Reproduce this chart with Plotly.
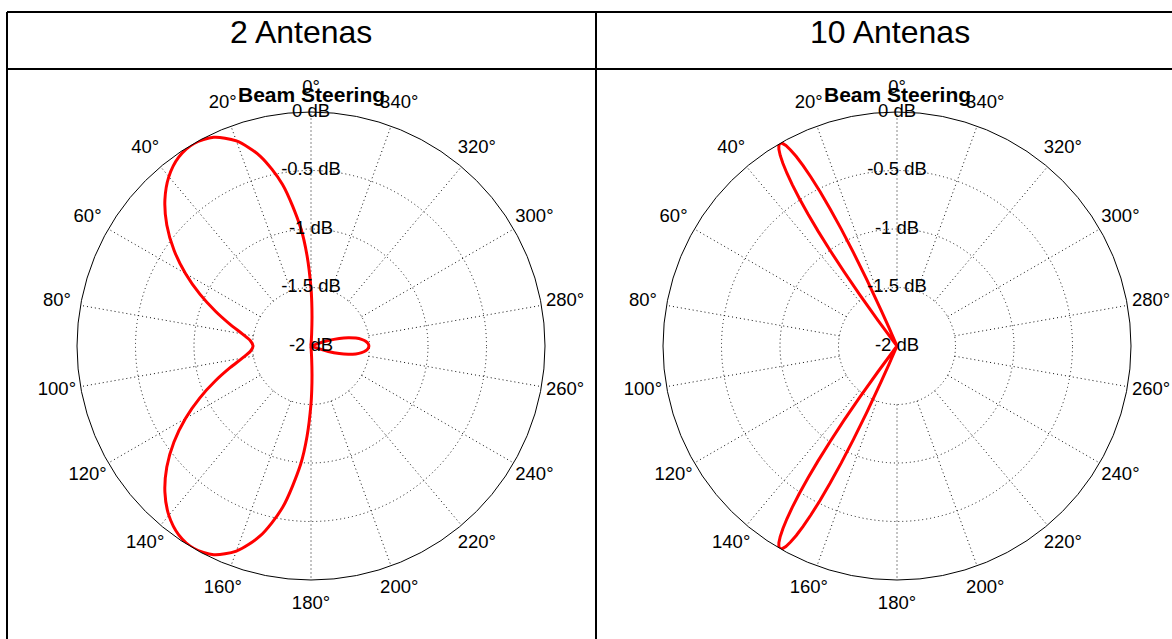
import plotly.graph_objects as go

# ---------------- data ----------------
ang_2 = [0, 2.5, 5, 10, 15, 20, 25, 30, 35, 40, 45, 50, 55, 60, 65, 70, 75, 80, 85, 90,
         95, 100, 105, 110, 115, 120, 125, 130, 135, 140, 145, 150, 155, 160, 165, 170, 175,
         177.5, 180, 181, 182, 183, 184, 249,
         250, 252.5, 255, 257.5, 260, 262.5, 265, 267.5, 270, 272.5, 275, 277.5, 280, 282.5,
         285, 287.5, 290, 291, 356, 357, 358, 359, 360]
db_2 = [-1.505, -1.227, -0.985, -0.598, -0.319, -0.135, -0.032, 0.0, -0.029, -0.110, -0.234,
        -0.391, -0.570, -0.761, -0.952, -1.131, -1.284, -1.404, -1.480, -1.505,
        -1.480, -1.404, -1.284, -1.131, -0.952, -0.761, -0.570, -0.391, -0.234, -0.110,
        -0.029, 0.0, -0.032, -0.135, -0.319, -0.598, -0.985,
        -1.227, -1.505, -1.627, -1.756, -1.892, -2, -2,
        -1.958, -1.845, -1.750, -1.674, -1.611, -1.564, -1.531, -1.512, -1.505, -1.512,
        -1.531, -1.564, -1.611, -1.674, -1.750, -1.845, -1.958, -2, -2,
        -1.892, -1.756, -1.627, -1.505]

ang_10 = [0, 23.5, 23.75, 24, 24.5, 25, 25.5, 26, 26.5, 27, 27.5, 28, 28.5, 29, 29.5, 30,
          30.5, 31, 31.5, 32, 32.5, 33, 33.5, 34, 34.5, 35, 35.5, 36, 36.5, 37,
          143, 143.5, 144, 144.5, 145, 145.5, 146, 146.5, 147, 147.5, 148, 148.5, 149, 149.5,
          150, 150.5, 151, 151.5, 152, 152.5, 153, 153.5, 154, 154.5, 155, 155.5, 156,
          156.25, 156.5, 360]
db_10 = [-2, -2, -1.827, -1.667, -1.375, -1.117, -0.891, -0.694, -0.525, -0.381, -0.262,
         -0.166, -0.093, -0.041, -0.010, 0.0, -0.010, -0.040, -0.090, -0.159, -0.249, -0.358,
         -0.488, -0.639, -0.811, -1.004, -1.221, -1.462, -1.729, -2,
         -2, -1.729, -1.462, -1.221, -1.004, -0.811, -0.639, -0.488, -0.358, -0.249, -0.159,
         -0.090, -0.040, -0.010, 0.0, -0.010, -0.041, -0.093, -0.166, -0.262, -0.381, -0.525,
         -0.694, -0.891, -1.117, -1.375, -1.667, -1.827, -2, -2]

ang_ticks = list(range(0, 360, 20))
ang_labels = [f"{a}°" for a in ang_ticks]
r_ticks = [0, -0.5, -1, -1.5, -2]
r_labels = ["0 dB", "-0.5 dB", "-1 dB", "-1.5 dB", "-2 dB"]
r_grid = [-1.5, -1, -0.5]
headers = ["2 Antenas", "10 Antenas"]
plot_title = "Beam Steering"

# ---------------- layout constants ----------------
W, H = 1172, 639
FONT = "Liberation Sans, Arial, Helvetica, sans-serif"
R = 234            # outer circle radius (px)
RL = 258           # radius on which angular labels are centred (px)
DOTS = "1px,3px"
centers = [(311, 346), (897, 346)]
subplots = ["polar", "polar2"]
label_subplots = ["polar3", "polar4"]
series = [(ang_2, db_2, "spline"), (ang_10, db_10, "linear")]

fig = go.Figure()

for name, (ang, db, shape) in zip(subplots, series):
    th, rr = [], []
    for a in ang_ticks:
        th += [a, a, None]
        rr += [r_grid[0], 0, None]
    fig.add_trace(go.Scatterpolar(theta=th, r=rr, mode="lines",
                                  line=dict(color="#111111", width=1, dash=DOTS),
                                  subplot=name, hoverinfo="skip", showlegend=False))
    fig.add_trace(go.Scatterpolar(theta=ang, r=db, mode="lines",
                                  line=dict(color="#ff0000", width=3, shape=shape,
                                            smoothing=0.8),
                                  subplot=name, showlegend=False))
    fig.add_trace(go.Scatterpolar(theta=[0] * len(r_ticks), r=r_ticks, mode="text",
                                  text=r_labels, textposition="middle center",
                                  textfont=dict(size=18.5, color="black", family=FONT),
                                  cliponaxis=False, subplot=name, hoverinfo="skip",
                                  showlegend=False))

for name in label_subplots:
    fig.add_trace(go.Scatterpolar(theta=ang_ticks, r=[1] * len(ang_ticks),
                                  mode="text", text=ang_labels,
                                  textposition="middle center",
                                  textfont=dict(size=18.5, color="black", family=FONT),
                                  cliponaxis=False, subplot=name, hoverinfo="skip",
                                  showlegend=False))


def dom(cx, cy, rad):
    cyb = H - cy
    return dict(x=[(cx - rad) / W, (cx + rad) / W], y=[(cyb - rad) / H, (cyb + rad) / H])


layout_polars = {}
for name, lname, (cx, cy) in zip(subplots, label_subplots, centers):
    layout_polars[name] = dict(
        domain=dom(cx, cy, R),
        bgcolor="white",
        angularaxis=dict(rotation=90, direction="counterclockwise", tickmode="array",
                         tickvals=ang_ticks, showticklabels=False, showgrid=False,
                         showline=True, linecolor="black", linewidth=1, ticks=""),
        radialaxis=dict(range=[-2, 0], tickmode="array", tickvals=r_grid,
                        showticklabels=False, ticks="", showline=False, showgrid=True,
                        gridcolor="#111111", griddash=DOTS, gridwidth=1),
    )
    layout_polars[lname] = dict(
        domain=dom(cx, cy, RL),
        bgcolor="rgba(0,0,0,0)",
        angularaxis=dict(rotation=90, direction="counterclockwise", showticklabels=False,
                         showgrid=False, showline=False, ticks=""),
        radialaxis=dict(range=[0, 1], visible=False),
    )

annotations = []
for (cx, cy), txt in zip(centers, headers):
    annotations.append(dict(x=(cx - 10 + (0 if cx < 600 else 3)) / W, y=1 - 32 / H,
                            xref="paper", yref="paper", text=txt, showarrow=False,
                            xanchor="center", yanchor="middle",
                            font=dict(size=32, color="black", family=FONT)))
    annotations.append(dict(x=cx / W, y=1 - 94 / H, xref="paper", yref="paper",
                            text=f"<b>{plot_title}</b>", showarrow=False,
                            xanchor="center", yanchor="middle",
                            font=dict(size=21, color="black", family=FONT)))

line = dict(color="black", width=2)
shapes = [
    dict(type="line", xref="paper", yref="paper", x0=7 / W, x1=1, y0=1 - 12 / H, y1=1 - 12 / H, line=line),
    dict(type="line", xref="paper", yref="paper", x0=7 / W, x1=1, y0=1 - 69 / H, y1=1 - 69 / H, line=line),
    dict(type="line", xref="paper", yref="paper", x0=7 / W, x1=7 / W, y0=0, y1=1 - 12 / H, line=line),
    dict(type="line", xref="paper", yref="paper", x0=596 / W, x1=596 / W, y0=0, y1=1 - 12 / H, line=line),
]

fig.update_layout(width=W, height=H, margin=dict(l=0, r=0, t=0, b=0),
                  paper_bgcolor="white", plot_bgcolor="white",
                  font=dict(family=FONT, color="black"),
                  annotations=annotations, shapes=shapes, showlegend=False,
                  **layout_polars)

fig.write_html("out.html", config={"displayModeBar": False},
               post_script="document.body.style.margin='0';")
